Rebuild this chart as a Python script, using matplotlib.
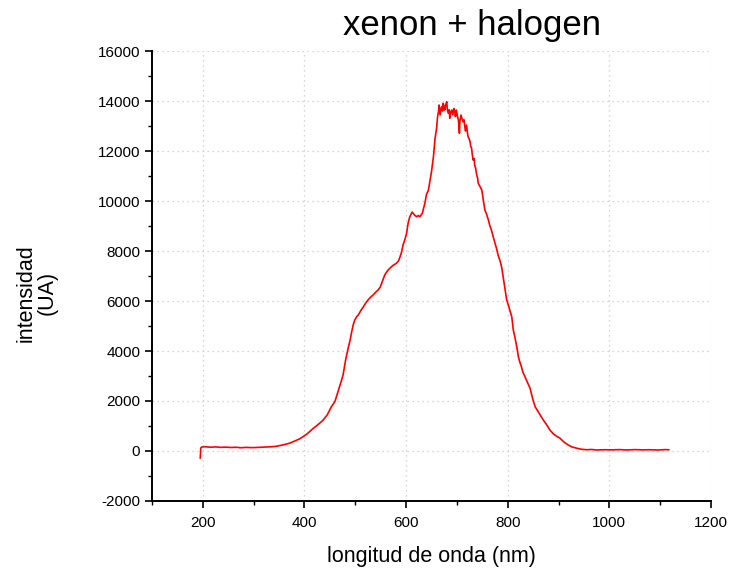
import matplotlib.pyplot as plt
from matplotlib.ticker import MultipleLocator

plt.rcParams['font.family'] = ['Liberation Sans', 'DejaVu Sans']
plt.rcParams['axes.unicode_minus'] = False

# espectro xenon + halogeno
longitud = [195, 196, 198, 205, 215, 225, 235, 245, 255, 265, 275, 285, 295, 305,
            315, 325, 335, 345, 355, 365, 372, 380, 390, 397, 405, 417, 427, 437,
            445, 453, 460, 466, 471, 476, 481, 486, 490, 493, 496, 499, 503, 506,
            511, 516, 520, 525, 530, 535, 540, 545, 549, 552, 555, 558, 563, 568,
            574, 581, 585, 588, 591, 594, 598, 601, 604, 607, 609, 612, 614, 617,
            621, 624, 627, 630, 632, 635, 637, 640, 644, 647, 650, 654, 657, 660,
            662, 664, 665, 667, 669, 670, 672, 673, 675, 676, 678, 680, 681, 683,
            685, 686, 688, 690, 692, 694, 696, 697, 699, 701, 703, 705, 706, 708,
            710, 712, 714, 716, 717, 719, 721, 722, 724, 726, 727, 729, 730, 732,
            734, 735, 737, 739, 741, 742, 745, 749, 752, 755, 758, 762, 765, 768,
            771, 775, 778, 781, 785, 788, 791, 794, 796, 798, 801, 804, 808, 811,
            814, 818, 821, 824, 827, 830, 834, 839, 844, 849, 854, 860, 865, 870,
            877, 883, 890, 897, 903, 910, 919, 927, 936, 945, 955, 965, 975, 990,
            1005, 1020, 1035, 1050, 1065, 1080, 1095, 1110, 1117]
intensidad = [-280, 120, 160, 170, 150, 165, 145, 155, 140, 150, 130, 145, 135, 140,
              150, 160, 170, 190, 230, 280, 320, 390, 480, 570, 680, 900, 1060, 1240,
              1450, 1770, 1980, 2370, 2700, 3040, 3640, 4110, 4450, 4770, 5050, 5240, 5380, 5440,
              5620, 5770, 5900, 6040, 6150, 6240, 6350, 6440, 6550, 6710, 6880, 7040, 7200, 7310,
              7420, 7510, 7600, 7760, 7950, 8240, 8480, 8710, 9110, 9350, 9440, 9560, 9510, 9430,
              9370, 9420, 9370, 9450, 9510, 9750, 9910, 10250, 10440, 10800, 11170, 11800, 12500, 12900,
              13370, 13600, 13840, 13440, 13700, 13770, 13600, 13910, 13750, 13640, 13850, 13970, 13700, 13510,
              13650, 13310, 13550, 13640, 13450, 13700, 13570, 13380, 13640, 13400, 13240, 12710, 13200, 13440,
              13300, 13170, 13250, 12910, 12800, 13040, 12700, 12570, 12500, 12370, 12200, 12110, 11900, 11640,
              11700, 11440, 11300, 11040, 10900, 10710, 10600, 10440, 10040, 9640, 9500, 9240, 9000, 8840,
              8600, 8310, 8100, 7840, 7600, 7370, 6970, 6570, 6300, 6040, 5850, 5640, 5370, 4840,
              4570, 4150, 3770, 3550, 3370, 3150, 2970, 2750, 2510, 2100, 1770, 1570, 1400, 1240,
              1040, 840, 680, 580, 510, 370, 240, 160, 110, 70, 50, 60, 40, 50,
              45, 55, 40, 55, 45, 50, 40, 55, 50]

fig = plt.figure(figsize=(7.35, 5.74), dpi=100)
ax = fig.add_axes([0.2068, 0.1272, 0.7605, 0.7839])

ax.plot(longitud, intensidad, color='#ff0000', linewidth=1.2)

ax.set_xlim(100, 1200)
ax.set_ylim(-2000, 16000)
ax.xaxis.set_major_locator(MultipleLocator(200))
ax.xaxis.set_minor_locator(MultipleLocator(100))
ax.yaxis.set_major_locator(MultipleLocator(2000))
ax.yaxis.set_minor_locator(MultipleLocator(1000))

ax.grid(True, which='major', linestyle=(0, (1, 3)), color='#c8c8c8', linewidth=0.9)
ax.set_axisbelow(True)

for s in ['top', 'right']:
    ax.spines[s].set_visible(False)
for s in ['left', 'bottom']:
    ax.spines[s].set_linewidth(1.4)

ax.tick_params(which='major', direction='out', length=5, width=1.2, labelsize=11)
ax.tick_params(which='minor', direction='out', length=3, width=1.0)
ax.tick_params(axis='x', pad=6)

ax.set_xlabel('longitud de onda (nm)', fontsize=15.5, labelpad=11)
fig.text(37 / 735, 1 - 293 / 574, 'intensidad\n(UA)', rotation=90,
         ha='center', va='center', multialignment='center', fontsize=15.5,
         linespacing=1.0)
fig.text(472 / 735, 1 - 25 / 574, 'xenon + halogen', ha='center', va='center',
         fontsize=25)

fig.savefig('out.png', dpi=100)
